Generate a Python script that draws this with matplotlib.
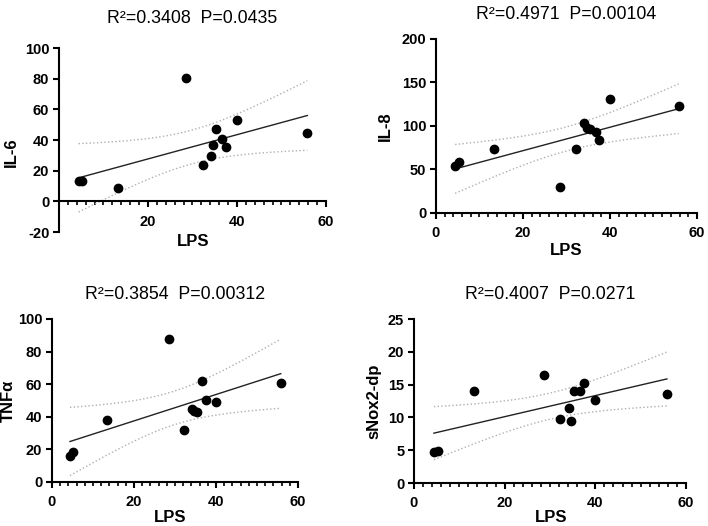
import numpy as np
import matplotlib
matplotlib.use("Agg")
from matplotlib import pyplot as plt
from matplotlib.ticker import MultipleLocator

plt.rcParams['font.family'] = ['Liberation Sans', 'DejaVu Sans']
plt.rcParams['axes.unicode_minus'] = False

# LPS values (x) shared by all panels
lps = [4.4, 5.2, 13.3, 28.6, 32.3, 34.1, 34.7, 35.3, 36.7, 37.5, 40.0, 55.8]

il6 = [13.0, 13.0, 8.7, 80.4, 23.7, 29.3, 36.7, 47.2, 40.4, 35.2, 53.3, 44.3]
il8 = [54.4, 58.6, 73.9, 30.3, 73.2, 103.0, 97.3, 96.2, 93.1, 83.9, 131.4, 123.0]
tnfa = [15.9, 18.2, 38.0, 87.8, 32.0, 44.5, 43.3, 43.1, 62.0, 50.4, 49.2, 60.6]
snox = [4.7, 4.9, 14.0, 16.4, 9.7, 11.4, 9.5, 14.1, 14.1, 15.3, 12.6, 13.6]

titles = ["R\u00b2=0.3408  P=0.0435", "R\u00b2=0.4971  P=0.00104",
          "R\u00b2=0.3854  P=0.00312", "R\u00b2=0.4007  P=0.0271"]
ylabels = ["IL-6", "IL-8", "TNF\u03b1", "sNox2-dp"]
ylims = [(-20, 100), (0, 200), (0, 100), (0, 25)]
ysteps = [20, 50, 20, 5]
xticks_p1 = [20, 40, 60]
xticks = [0, 20, 40, 60]

T95 = 2.228  # t value, df = 10


def fit_band(x, y):
    x = np.asarray(x)
    y = np.asarray(y)
    n = len(x)
    b, a = np.polyfit(x, y, 1)
    xs = np.linspace(x.min(), x.max(), 200)
    yhat = a + b * xs
    resid = y - (a + b * x)
    s = np.sqrt(np.sum(resid ** 2) / (n - 2))
    sxx = np.sum((x - x.mean()) ** 2)
    se = s * np.sqrt(1.0 / n + (xs - x.mean()) ** 2 / sxx)
    return xs, yhat, yhat - T95 * se, yhat + T95 * se


fig = plt.figure(figsize=(7.08, 5.26), dpi=100)

# [left, bottom, width, height], title pad, ylabel pos, xlabel pos
layout = [
    ([0.0833, 0.5589, 0.3771, 0.3498], 18, (-0.150, 0.435), (0.502, -0.054)),
    ([0.6158, 0.5951, 0.3686, 0.3308], 14.5, (-0.165, 0.5), (0.498, -0.218)),
    ([0.0734, 0.0837, 0.3475, 0.3099], 14.5, (-0.146, 0.5), (0.480, -0.221)),
    ([0.5847, 0.0817, 0.3842, 0.3118], 14.5, (-0.118, 0.5), (0.504, -0.213)),
]
series = [il6, il8, tnfa, snox]

for i, (pos, tpad, ylpos, xlpos) in enumerate(layout):
    ax = fig.add_axes(pos)
    y = series[i]
    xs, yhat, lo, hi = fit_band(lps, y)
    ax.plot(xs, lo, color='#b0b0b0', lw=1.0, ls=':')
    ax.plot(xs, hi, color='#b0b0b0', lw=1.0, ls=':')
    ax.plot(xs, yhat, color='#222222', lw=1.0)
    ax.scatter(lps, y, s=36, color='black', zorder=3, clip_on=False)

    ax.set_xlim(0, 60)
    ax.set_ylim(*ylims[i])
    ax.yaxis.set_major_locator(MultipleLocator(ysteps[i]))
    ax.set_xticks(xticks_p1 if i == 0 else xticks)
    ax.xaxis.set_minor_locator(MultipleLocator(2))

    for side in ['top', 'right']:
        ax.spines[side].set_visible(False)
    ax.spines['left'].set_linewidth(1.5)
    ax.spines['bottom'].set_linewidth(1.5)
    ax.spines['bottom'].set_position(('data', 0))
    ax.spines['bottom'].set_bounds(0, 60)

    ax.tick_params(axis='both', which='major', length=4.5, width=1.5,
                   labelsize=10.5)
    ax.tick_params(axis='x', which='major', pad=5)
    ax.tick_params(axis='y', which='major', pad=2.5)
    ax.tick_params(axis='x', which='minor', length=3, width=1.2)
    for lab in ax.get_xticklabels() + ax.get_yticklabels():
        lab.set_fontweight('bold')

    ax.set_title(titles[i], fontsize=12.8, pad=tpad)
    ax.set_ylabel(ylabels[i], fontsize=12, fontweight='bold')
    ax.yaxis.set_label_coords(*ylpos)
    ax.set_xlabel("LPS", fontsize=12, fontweight='bold', va='center')
    ax.xaxis.set_label_coords(*xlpos)

fig.savefig("out.png", dpi=100)
